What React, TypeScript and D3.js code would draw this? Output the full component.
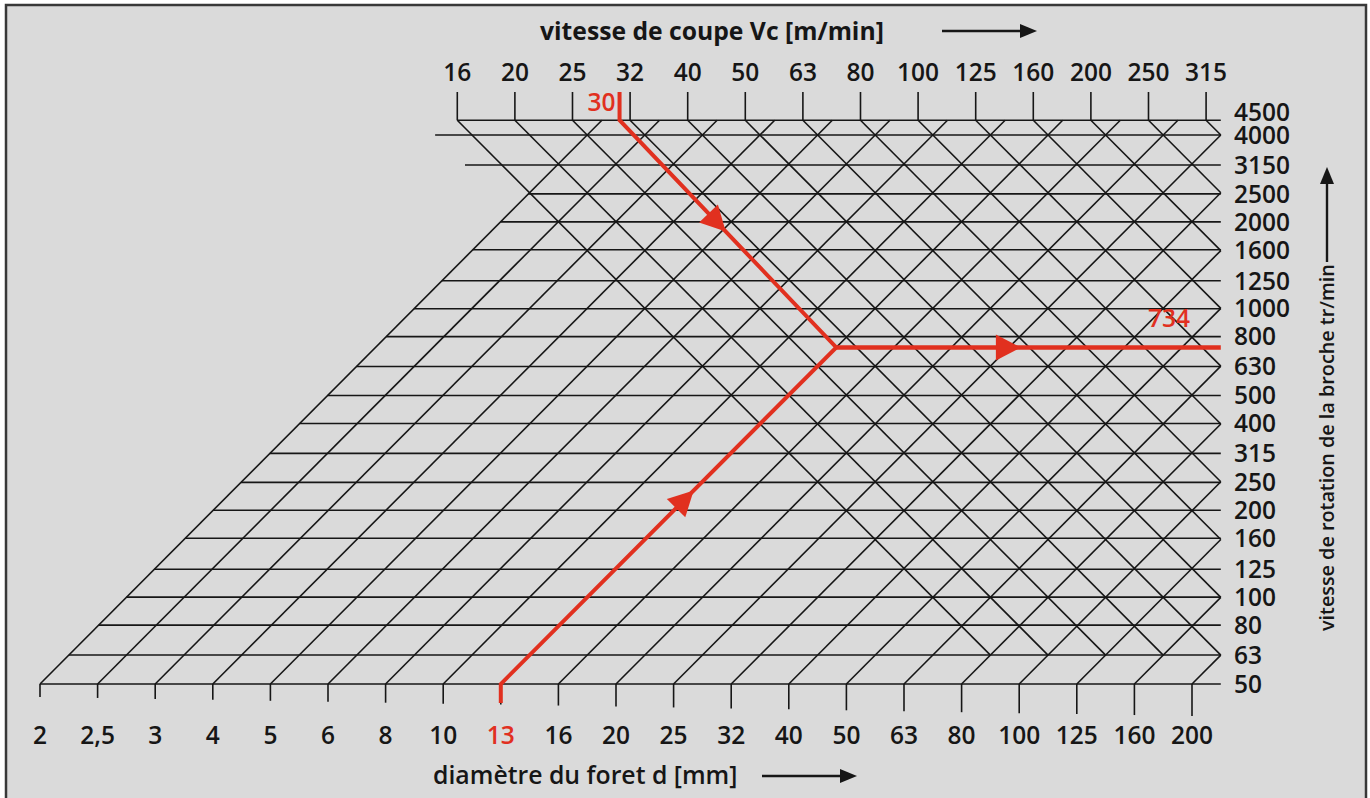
import React, { useEffect, useRef } from 'react';
import * as d3 from 'd3';

// diamètres (axe du bas), vitesses de coupe (haut), vitesses de rotation (droite)
const diameters = ['2', '2,5', '3', '4', '5', '6', '8', '10', '13', '16', '20', '25', '32', '40', '50', '63', '80', '100', '125', '160', '200'];
const cuttingSpeeds = ['16', '20', '25', '32', '40', '50', '63', '80', '100', '125', '160', '200', '250', '315'];
const spindleSpeeds = [50, 63, 80, 100, 125, 160, 200, 250, 315, 400, 500, 630, 800, 1000, 1250, 1600, 2000, 2500, 3150, 4000, 4500];

// exemple en rouge : d = 13 mm, Vc = 30 m/min -> n = 734 tr/min
const exampleDiameter = '13';
const exampleSpeed = 30;
const exampleRpm = 734;

const RED = '#e1301f';
const INK = '#161616';
const FONT = "'Open Sans', 'DejaVu Sans', sans-serif";
const TICK_SIZE = '24.5px';

const App = () => {
  const svgRef = useRef(null);

  useEffect(() => {
    const svg = d3.select(svgRef.current);
    svg.selectAll('*').remove();

    const width = 1370;
    const height = 798;

    // cadre gris
    svg.append('rect')
      .attr('x', 6).attr('y', 5)
      .attr('width', width - 10).attr('height', height + 20)
      .attr('fill', '#dadada')
      .attr('stroke', '#383838')
      .attr('stroke-width', 2.5);

    // échelles : colonnes (diamètre) et lignes (log de n)
    const col = d3.scaleLinear().domain([0, diameters.length - 1]).range([40, 1192]);
    const y = d3.scaleLog().domain([50, 4000]).range([684, 135]);
    const rowStep = (y(50) - y(4000)) / 19;
    const rowOf = n => (y(50) - y(n)) / rowStep;
    const vcIndex = d3.scaleLog().domain([16, 20]).range([0, 1]);

    // x d'une droite "diamètre" c ou "vitesse de coupe" k à la ligne r
    const xD = (c, r) => col(c + r / 2);
    const xV = (k, r) => col(k + 17 - r / 2);
    const rightCol = diameters.length - 1 + 0.5;
    const xRight = col(rightCol);
    const rTop = rowOf(4500);

    const g = svg.append('g');

    // lignes horizontales
    spindleSpeeds.forEach(n => {
      const r = rowOf(n);
      const overhang = r > 17.5 && r < 19.4 ? 0.64 : 0;
      const left = r <= 17 ? xD(0, r) : col(17 - r / 2 - overhang);
      g.append('line')
        .attr('x1', left).attr('x2', xRight)
        .attr('y1', y(n)).attr('y2', y(n))
        .attr('stroke', INK).attr('stroke-width', 1.6);
    });

    // droites de diamètre (montantes)
    diameters.forEach((d, c) => {
      const rEnd = Math.min(rTop, 2 * (rightCol - c));
      g.append('line')
        .attr('x1', xD(c, 0)).attr('y1', y(50))
        .attr('x2', xD(c, rEnd)).attr('y2', y(50) - rEnd * rowStep)
        .attr('stroke', INK).attr('stroke-width', 1.6);
    });

    // droites de vitesse de coupe (descendantes)
    cuttingSpeeds.forEach((v, k) => {
      const rEnd = Math.max(1, 2 * (k + 17 - rightCol));
      g.append('line')
        .attr('x1', xV(k, rTop)).attr('y1', y(4500))
        .attr('x2', xV(k, rEnd)).attr('y2', y(50) - rEnd * rowStep)
        .attr('stroke', INK).attr('stroke-width', 1.6);
    });

    // graduations du bas
    diameters.forEach((d, c) => {
      const len = 13 + 19 * c / (diameters.length - 1);
      g.append('line')
        .attr('x1', col(c)).attr('x2', col(c))
        .attr('y1', y(50)).attr('y2', y(50) + len)
        .attr('stroke', INK).attr('stroke-width', 1.6);
      g.append('text')
        .attr('x', col(c)).attr('y', 744)
        .attr('text-anchor', 'middle')
        .attr('fill', d === exampleDiameter ? RED : INK)
        .style('font-family', FONT).style('font-size', TICK_SIZE).style('font-weight', 600)
        .text(d);
    });

    // graduations du haut
    cuttingSpeeds.forEach((v, k) => {
      const x = xV(k, rTop);
      g.append('line')
        .attr('x1', x).attr('x2', x)
        .attr('y1', y(4500)).attr('y2', 92)
        .attr('stroke', INK).attr('stroke-width', 1.6);
      g.append('text')
        .attr('x', x).attr('y', 81)
        .attr('text-anchor', 'middle')
        .attr('fill', INK)
        .style('font-family', FONT).style('font-size', TICK_SIZE).style('font-weight', 600)
        .text(v);
    });

    // graduations de droite
    spindleSpeeds.forEach(n => {
      g.append('text')
        .attr('x', 1234).attr('y', y(n) + 8.8 - (n === 4500 ? 8 : 0))
        .attr('fill', INK)
        .style('font-family', FONT).style('font-size', TICK_SIZE).style('font-weight', 600)
        .text(n);
    });

    // titres
    const arrow = (x1, y1, x2, y2) => {
      const a = Math.atan2(y2 - y1, x2 - x1);
      const L = 17;
      const W = 7;
      const bx = x2 - L * Math.cos(a);
      const by = y2 - L * Math.sin(a);
      svg.append('line')
        .attr('x1', x1).attr('y1', y1).attr('x2', bx).attr('y2', by)
        .attr('stroke', INK).attr('stroke-width', 2.4);
      svg.append('path')
        .attr('d', `M${x2},${y2}L${bx - W * Math.sin(a)},${by + W * Math.cos(a)}L${bx + W * Math.sin(a)},${by - W * Math.cos(a)}Z`)
        .attr('fill', INK);
    };

    svg.append('text')
      .attr('x', 540).attr('y', 40)
      .attr('fill', INK)
      .style('font-family', FONT).style('font-size', '24.7px').style('font-weight', 700)
      .text('vitesse de coupe Vc [m/min]');
    arrow(942, 31, 1037, 31);

    svg.append('text')
      .attr('x', 433).attr('y', 784)
      .attr('fill', INK)
      .style('font-family', FONT).style('font-size', '24.8px').style('font-weight', 600)
      .text('diamètre du foret d [mm]');
    arrow(762, 776, 857, 776);

    svg.append('text')
      .attr('transform', 'translate(1334,631) rotate(-90)')
      .attr('fill', INK)
      .style('font-family', FONT).style('font-size', '19.8px').style('font-weight', 600)
      .text('vitesse de rotation de la broche tr/min');
    arrow(1327, 262, 1327, 167);

    // exemple rouge
    const c0 = diameters.indexOf(exampleDiameter);
    const rN = rowOf(exampleRpm);
    const start = [col(c0), y(50)];
    const corner = [xD(c0, rN), y(exampleRpm)];
    const top = [xV(vcIndex(exampleSpeed), rTop), y(4500)];
    const end = [xRight, y(exampleRpm)];

    const red = svg.append('g');
    red.append('path')
      .attr('d', d3.line()([[col(c0), y(50) + 19], start, corner, top, [top[0], 92]]))
      .attr('fill', 'none').attr('stroke', RED).attr('stroke-width', 4)
      .attr('stroke-linejoin', 'miter');
    red.append('line')
      .attr('x1', corner[0]).attr('y1', corner[1])
      .attr('x2', end[0]).attr('y2', end[1])
      .attr('stroke', RED).attr('stroke-width', 4.5);

    const head = (p, q, t) => {
      const x = p[0] + (q[0] - p[0]) * t;
      const yy = p[1] + (q[1] - p[1]) * t;
      const a = Math.atan2(q[1] - p[1], q[0] - p[0]) * 180 / Math.PI;
      red.append('path')
        .attr('d', 'M0,0L-25,-13L-25,13Z')
        .attr('transform', `translate(${x},${yy}) rotate(${a})`)
        .attr('fill', RED);
    };
    head(start, corner, 0.575);
    head(top, corner, 0.49);
    head(corner, end, 0.48);

    red.append('text')
      .attr('x', top[0] - 4).attr('y', 111)
      .attr('text-anchor', 'end')
      .attr('fill', RED)
      .style('font-family', FONT).style('font-size', TICK_SIZE).style('font-weight', 600)
      .text(exampleSpeed);
    red.append('text')
      .attr('x', 1169).attr('y', 327)
      .attr('text-anchor', 'middle')
      .attr('fill', RED)
      .style('font-family', FONT).style('font-size', TICK_SIZE).style('font-weight', 600)
      .text(exampleRpm);
  }, []);

  return (
    <div style={{ position: 'fixed', left: 0, top: 0, width: 1370, height: 798, background: 'white' }}>
      <svg ref={svgRef} width={1370} height={798} style={{ display: 'block' }} />
    </div>
  );
};

export default App;
